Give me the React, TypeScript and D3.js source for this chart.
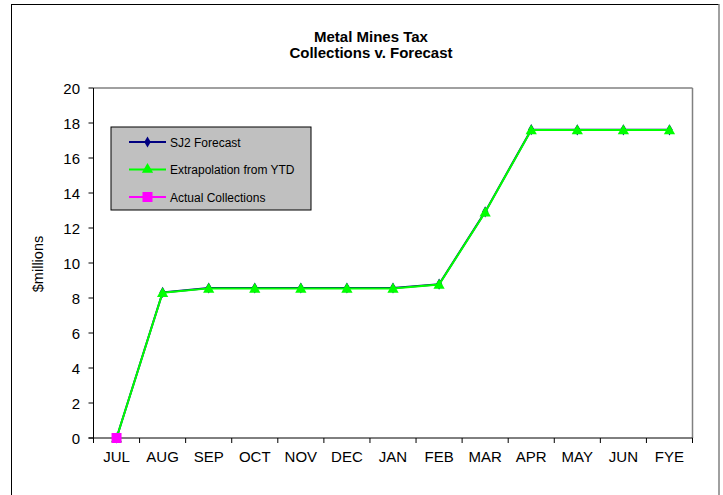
import React from "react";
import * as d3 from "d3";

const months = ["JUL", "AUG", "SEP", "OCT", "NOV", "DEC", "JAN", "FEB", "MAR", "APR", "MAY", "JUN", "FYE"];
const forecast = [0, 8.32, 8.57, 8.57, 8.57, 8.57, 8.57, 8.79, 12.92, 17.62, 17.61, 17.61, 17.61];
const extrapolation = [0, 8.3, 8.55, 8.55, 8.55, 8.55, 8.55, 8.77, 12.9, 17.6, 17.6, 17.6, 17.6];
const actual = [0];
const yTicks = [0, 2, 4, 6, 8, 10, 12, 14, 16, 18, 20];
const titleLines = ["Metal Mines Tax", "Collections v. Forecast"];
const legendLabels = ["SJ2 Forecast", "Extrapolation from YTD", "Actual Collections"];

const W = 723, H = 495;
const left = 93.5, right = 692.5, top = 88, bottom = 438;
const font = "'Liberation Sans', Arial, sans-serif";

export default function App() {
  const x = d3.scaleBand<string>().domain(months).range([left, right]).padding(0);
  const y = d3.scaleLinear().domain([0, 20]).range([bottom, top]);
  const cx = (i: number) => (x(months[i]) as number) + x.bandwidth() / 2;
  const line = d3.line<number>().x((_, i) => cx(i)).y((v) => y(v));
  const diamond = d3.symbol().type(d3.symbolDiamond).size(36)() as string;
  const triangle = d3.symbol().type(d3.symbolTriangle).size(55)() as string;
  const square = d3.symbol().type(d3.symbolSquare).size(100)() as string;
  const boundaries = d3.range(months.length + 1).map((i) => left + i * x.bandwidth());

  const legendX = 111, legendY = 127;
  const legendItems = [
    { label: legendLabels[0], color: "#000080", marker: diamond },
    { label: legendLabels[1], color: "#00ff00", marker: triangle },
    { label: legendLabels[2], color: "#ff00ff", marker: square },
  ];

  return (
    <svg width={W} height={H} style={{ position: "absolute", left: 0, top: 0 }} fontFamily={font}>
      <rect x={0} y={0} width={W} height={H} fill="#fff" />
      {/* chart area border */}
      <line x1={11.5} y1={4} x2={11.5} y2={H} stroke="#000" strokeWidth={1} />
      <line x1={11.5} y1={4.5} x2={719} y2={4.5} stroke="#000" strokeWidth={1} />
      <line x1={719} y1={4} x2={719} y2={H} stroke="#808080" strokeWidth={1.5} />
      {/* title */}
      {titleLines.map((t, i) => (
        <text key={t} x={371} y={42 + i * 16} textAnchor="middle" fontWeight="bold" fontSize={15}>{t}</text>
      ))}
      {/* plot area border */}
      <line x1={left} y1={top} x2={right} y2={top} stroke="#808080" strokeWidth={1.5} />
      <line x1={right} y1={top} x2={right} y2={bottom} stroke="#808080" strokeWidth={1.5} />
      {/* axes */}
      <line x1={left} y1={top} x2={left} y2={bottom} stroke="#000" strokeWidth={1} />
      <line x1={left - 5} y1={bottom} x2={right} y2={bottom} stroke="#000" strokeWidth={1} />
      {yTicks.map((t) => (
        <g key={t}>
          <line x1={left - 5} x2={left} y1={y(t)} y2={y(t)} stroke="#000" />
          <text x={80} y={y(t) + 5.5} textAnchor="end" fontSize={15}>{t}</text>
        </g>
      ))}
      {boundaries.map((b, i) => (
        <line key={i} x1={b} x2={b} y1={bottom} y2={bottom + 5} stroke="#000" />
      ))}
      {months.map((m, i) => (
        <text key={m} x={cx(i)} y={462} textAnchor="middle" fontSize={15}>{m}</text>
      ))}
      <text transform={`translate(43,${264}) rotate(-90)`} textAnchor="middle" fontSize={14.5}>$millions</text>
      {/* series */}
      <path d={line(forecast) as string} fill="none" stroke="#000080" strokeWidth={2} />
      {forecast.map((v, i) => (
        <path key={i} d={diamond} transform={`translate(${cx(i)},${y(v)})`} fill="#000080" />
      ))}
      <path d={line(extrapolation) as string} fill="none" stroke="#00ff00" strokeWidth={2} />
      {extrapolation.map((v, i) => (
        <path key={i} d={triangle} transform={`translate(${cx(i)},${y(v) + 1})`} fill="#00ff00" />
      ))}
      <path d={line(actual) as string} fill="none" stroke="#ff00ff" strokeWidth={2} />
      {actual.map((v, i) => (
        <path key={i} d={square} transform={`translate(${cx(i)},${y(v)})`} fill="#ff00ff" />
      ))}
      {/* legend */}
      <rect x={legendX} y={legendY} width={200} height={83} fill="#c0c0c0" stroke="#000" strokeWidth={1} />
      {legendItems.map((it, i) => {
        const ly = 142 + i * 27.5;
        return (
          <g key={it.label}>
            <line x1={129} x2={166} y1={ly} y2={ly} stroke={it.color} strokeWidth={2} />
            <path d={it.marker} transform={`translate(147.5,${ly})`} fill={it.color} />
            <text x={170} y={ly + 4.5} fontSize={12}>{it.label}</text>
          </g>
        );
      })}
    </svg>
  );
}
